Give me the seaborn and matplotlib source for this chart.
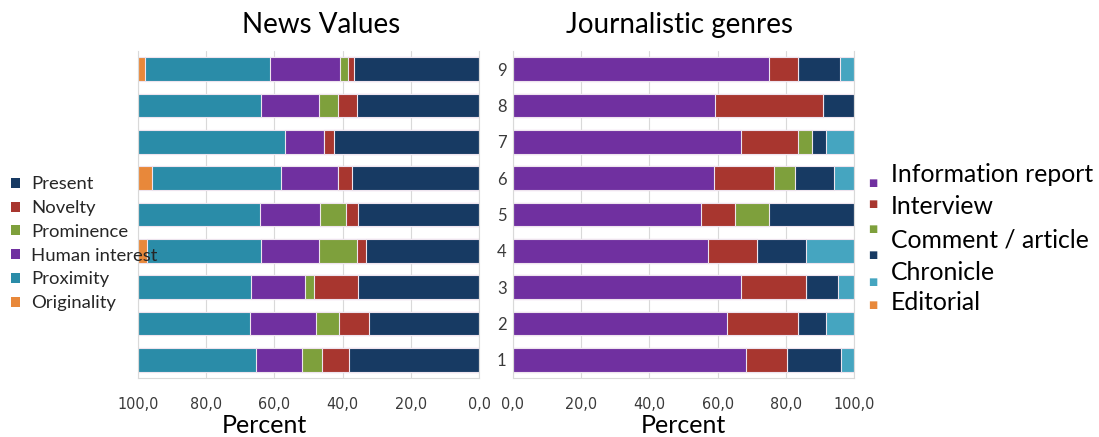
import numpy as np
import pandas as pd
import seaborn as sns
import matplotlib.pyplot as plt
from matplotlib.patches import Patch

# ---- data (percent of items in each of the 9 samples) ----
samples = ["1", "2", "3", "4", "5", "6", "7", "8", "9"]

# News values, stacked outward from 0
present = [38.2, 32.3, 35.6, 33.0, 35.5, 37.2, 42.6, 35.7, 36.7]
novelty = [7.8, 8.7, 12.9, 2.8, 3.6, 4.1, 2.8, 5.6, 1.8]
prominence = [5.9, 6.9, 2.4, 11.1, 7.4, 0.0, 0.0, 5.6, 2.2]
human_interest = [13.6, 19.3, 16.0, 16.9, 17.8, 16.8, 11.6, 17.0, 20.6]
proximity = [34.5, 32.8, 33.1, 33.7, 35.7, 37.9, 43.0, 36.1, 36.7]
originality = [0.0, 0.0, 0.0, 2.5, 0.0, 4.0, 0.0, 0.0, 2.0]
value_names = ["Present", "Novelty", "Prominence", "Human interest",
               "Proximity", "Originality"]

# Journalistic genres, stacked from 0
information_report = [68.2, 62.7, 66.8, 57.3, 55.1, 58.9, 66.8, 59.2, 75.1]
interview = [12.1, 20.8, 19.0, 14.3, 10.0, 17.6, 16.7, 31.8, 8.4]
comment_article = [0.0, 0.0, 0.0, 0.0, 10.1, 6.1, 4.2, 0.0, 0.0]
chronicle = [15.8, 8.2, 9.6, 14.2, 24.8, 11.6, 4.0, 9.0, 12.4]
editorial = [3.9, 8.3, 4.6, 14.2, 0.0, 5.8, 8.3, 0.0, 4.1]
genre_names = ["Information report", "Interview", "Comment / article",
               "Chronicle", "Editorial"]

tick_values = [0, 20, 40, 60, 80, 100]
tick_labels = ["0,0", "20,0", "40,0", "60,0", "80,0", "100,0"]

# ---- colours ----
NAVY = "#173a63"
RED = "#a8362f"
GREEN = "#7ea03c"
PURPLE = "#7030a0"
TEAL = "#2a8ca8"
LTEAL = "#45a5c0"
ORANGE = "#e8883a"
EDGE = "#eee4ee"

value_colors = [NAVY, RED, GREEN, PURPLE, TEAL, ORANGE]
genre_colors = [PURPLE, RED, GREEN, NAVY, LTEAL]
genre_key_colors = [PURPLE, RED, GREEN, NAVY, LTEAL, ORANGE]

sns.set_theme(style="white")
plt.rcParams["font.family"] = ["Lato", "DejaVu Sans"]

W, H = 1099, 437
fig = plt.figure(figsize=(W / 100, H / 100), dpi=100)


def box(x0, y0, x1, y1):
    return [x0 / W, 1 - y1 / H, (x1 - x0) / W, (y1 - y0) / H]


axL = fig.add_axes(box(138, 51, 479, 378))
axR = fig.add_axes(box(513, 51, 854, 378))


def stacked(ax, series, colors):
    """Overlay cumulative bars so every segment shows as a stack."""
    cum = np.zeros(len(samples))
    totals = []
    for s in series:
        cum = cum + np.asarray(s, dtype=float)
        totals.append(cum.copy())
    for total, col in reversed(list(zip(totals, colors))):
        df = pd.DataFrame({"sample": samples, "value": total})
        sns.barplot(data=df, x="value", y="sample", order=samples[::-1],
                    orient="h", color=col, saturation=1, width=0.66,
                    edgecolor=EDGE, linewidth=0.8, errorbar=None, ax=ax)


stacked(axL, [present, novelty, prominence, human_interest, proximity,
              originality], value_colors)
stacked(axR, [information_report, interview, comment_article, chronicle,
              editorial], genre_colors)

tick_font = dict(family="DejaVu Sans", stretch="condensed",
                 size=11.5, color="#3a3a3a")

for ax in (axL, axR):
    ax.set_ylim(8.5, -0.5)
    ax.set_xticks(tick_values)
    ax.set_xticklabels(tick_labels, **tick_font)
    ax.tick_params(axis="x", length=0, pad=14)
    ax.xaxis.grid(True, color="#d9d9d9", linewidth=0.8)
    ax.set_axisbelow(True)
    for side in ("left", "right", "bottom"):
        ax.spines[side].set_color("#d9d9d9")
        ax.spines[side].set_linewidth(0.8)
    ax.spines["top"].set_visible(False)
    ax.set_ylabel("")
    ax.set_xlabel("Percent", fontsize=18, color="black")

axL.set_xlim(100, 0)
axR.set_xlim(0, 100)

axL.yaxis.tick_right()
axL.tick_params(axis="y", length=0, pad=13, labelsize=12, labelcolor="#3a3a3a")
axR.tick_params(axis="y", length=0, labelleft=False)

axL.xaxis.set_label_coords(0.372, -0.11)
axR.xaxis.set_label_coords(0.4985, -0.11)

fig.text(321 / W, 1 - 25 / H, "News Values", ha="center", va="center",
         fontsize=20, color="black")
fig.text(679 / W, 1 - 25 / H, "Journalistic genres", ha="center",
         va="center", fontsize=20, color="black")

# News values key (drawn over the left edge of the bars)
handles = [Patch(facecolor=c, edgecolor="none") for c in value_colors]
fig.legend(handles, value_names, loc="upper left",
           bbox_to_anchor=(4 / W, 1 - 169 / H), frameon=False,
           fontsize=13.3, handlelength=0.45, handleheight=0.45,
           handletextpad=0.6, labelspacing=0.42, borderaxespad=0)

# Genre key: colour squares and their labels
key_y = [183, 204, 229, 255, 282, 305]
for y, c in zip(key_y, genre_key_colors):
    fig.text(873 / W, 1 - y / H, "\u25a0", ha="center", va="center",
             fontsize=7, color=c, family="DejaVu Sans")
label_y = [175, 207, 240, 272, 303]
for y, name in zip(label_y, genre_names):
    fig.text(891 / W, 1 - y / H, name, ha="left", va="center",
             fontsize=17.8, color="black")

fig.savefig("out.png", dpi=100)
